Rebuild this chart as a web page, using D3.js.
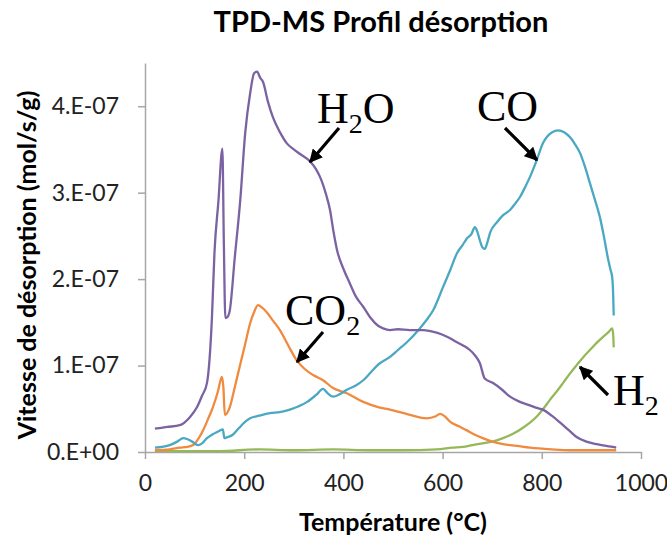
<!DOCTYPE html>
<html>
<head>
<meta charset="utf-8">
<script src="https://cdn.jsdelivr.net/npm/d3@7"></script>
<style>
  body { margin: 0; background: #ffffff; }
  svg { display: block; }
</style>
</head>
<body>
<div id="chart"></div>
<script>
// Données (température en °C, vitesse en 1E-07 mol/s/g)
var h2oTemp = [20, 45, 70, 90, 105, 115, 125, 135, 140, 148, 156, 159, 162, 166, 171, 181, 192, 202, 212, 220, 226, 232, 238, 248, 258, 272, 286, 300, 312, 333, 345, 356, 365, 373, 380, 387, 400, 413, 425, 440, 455, 470, 480, 494, 510, 534, 561, 588, 610, 629, 642, 655, 665, 675, 685, 701, 720, 736, 756, 776, 790, 802, 820, 837, 855, 871, 890, 911, 930, 943, 950];
var h2oVal = [0.27, 0.29, 0.31, 0.40, 0.52, 0.65, 0.80, 1.56, 2.30, 2.90, 3.51, 2.40, 1.55, 1.56, 1.64, 2.25, 2.91, 3.69, 4.15, 4.38, 4.40, 4.33, 4.28, 4.05, 3.87, 3.70, 3.57, 3.50, 3.45, 3.36, 3.27, 3.14, 2.98, 2.80, 2.55, 2.34, 2.12, 1.95, 1.80, 1.68, 1.55, 1.46, 1.43, 1.41, 1.42, 1.41, 1.41, 1.38, 1.33, 1.27, 1.23, 1.18, 1.12, 1.03, 0.85, 0.80, 0.72, 0.64, 0.58, 0.54, 0.51, 0.49, 0.42, 0.34, 0.25, 0.17, 0.12, 0.09, 0.07, 0.06, 0.05];

var co2Temp = [20, 50, 70, 85, 97, 107, 117, 127, 137, 147, 155, 158, 161, 171, 181, 191, 202, 212, 220, 228, 236, 245, 258, 272, 290, 306, 322, 339, 359, 379, 407, 440, 470, 494, 534, 568, 585, 595, 605, 615, 632, 649, 665, 681, 700, 722, 750, 776, 820, 857, 900, 950];
var co2Val = [0.02, 0.03, 0.05, 0.06, 0.08, 0.15, 0.25, 0.38, 0.52, 0.70, 0.87, 0.75, 0.43, 0.52, 0.75, 0.99, 1.25, 1.49, 1.62, 1.70, 1.67, 1.62, 1.52, 1.41, 1.22, 1.06, 0.96, 0.89, 0.83, 0.74, 0.68, 0.58, 0.52, 0.49, 0.43, 0.39, 0.41, 0.44, 0.41, 0.35, 0.30, 0.25, 0.20, 0.16, 0.12, 0.09, 0.07, 0.05, 0.03, 0.02, 0.02, 0.02];

var coTemp = [20, 50, 65, 77, 85, 95, 107, 115, 125, 135, 145, 157, 160, 165, 177, 190, 200, 212, 230, 252, 272, 292, 310, 327, 345, 359, 368, 379, 393, 407, 425, 440, 455, 470, 494, 510, 528, 554, 568, 581, 601, 615, 629, 641, 649, 658, 665, 670, 675, 680, 685, 690, 696, 710, 722, 736, 746, 756, 766, 776, 790, 802, 811, 821, 833, 845, 857, 867, 877, 887, 897, 907, 917, 925, 933, 938, 942, 944, 945];
var coVal = [0.05, 0.08, 0.12, 0.16, 0.15, 0.12, 0.08, 0.10, 0.16, 0.20, 0.23, 0.26, 0.16, 0.17, 0.20, 0.28, 0.34, 0.39, 0.42, 0.45, 0.46, 0.49, 0.53, 0.58, 0.66, 0.73, 0.68, 0.64, 0.67, 0.72, 0.77, 0.83, 0.92, 1.01, 1.10, 1.18, 1.27, 1.43, 1.53, 1.64, 1.91, 2.10, 2.30, 2.40, 2.47, 2.52, 2.60, 2.55, 2.45, 2.37, 2.35, 2.42, 2.54, 2.66, 2.74, 2.80, 2.87, 2.95, 3.06, 3.18, 3.38, 3.57, 3.65, 3.70, 3.72, 3.70, 3.64, 3.56, 3.46, 3.30, 3.11, 2.92, 2.72, 2.50, 2.25, 2.12, 2.02, 1.80, 1.58];

var h2Temp = [20, 100, 150, 230, 300, 380, 454, 520, 588, 620, 641, 660, 681, 700, 722, 742, 762, 776, 790, 803, 816, 830, 843, 857, 871, 884, 897, 910, 923, 935, 942, 944, 945];
var h2Val = [0.01, 0.01, 0.01, 0.03, 0.02, 0.03, 0.02, 0.02, 0.03, 0.05, 0.06, 0.08, 0.10, 0.12, 0.16, 0.21, 0.28, 0.34, 0.41, 0.50, 0.60, 0.70, 0.80, 0.91, 1.01, 1.10, 1.18, 1.26, 1.33, 1.39, 1.43, 1.35, 1.21];

var xTicks = [0, 200, 400, 600, 800, 1000];
var yTicks = [0, 1, 2, 3, 4];
var yTickLabels = ['0.E+00', '1.E-07', '2.E-07', '3.E-07', '4.E-07'];

var seriesNames = ['H2O', 'CO2', 'CO', 'H2'];
var seriesColors = ['#7B62A3', '#F08A3E', '#4AA8C2', '#95B858'];

var width = 667, height = 540;
var sansFont = 'Lato, "Open Sans", sans-serif';
var serifFont = '"Liberation Serif", "DejaVu Serif", serif';

var svg = d3.select('#chart').append('svg')
    .attr('width', width)
    .attr('height', height)
    .style('background', '#ffffff');

// Echelles
var x = d3.scaleLinear().domain([0, 1000]).range([145, 641]);
var y = d3.scaleLinear().domain([0, 4.5]).range([452, 63]);

// Axes
var xAxis = svg.append('g')
    .attr('transform', 'translate(0,' + y(0) + ')')
    .call(d3.axisBottom(x).tickValues(xTicks).tickSize(7).tickPadding(16).tickSizeOuter(0)
        .tickFormat(d3.format('d')));
var yAxis = svg.append('g')
    .attr('transform', 'translate(' + x(0) + ',0)')
    .call(d3.axisLeft(y).tickValues(yTicks).tickSize(7).tickPadding(19).tickSizeOuter(0)
        .tickFormat(function (d, i) { return yTickLabels[i]; }));

[xAxis, yAxis].forEach(function (ax) {
    ax.select('.domain').attr('stroke', '#a6a6a6').attr('stroke-width', 1.5);
    ax.selectAll('.tick line').attr('stroke', '#a6a6a6').attr('stroke-width', 1.5);
    ax.selectAll('.tick text')
        .style('font-family', sansFont)
        .style('font-size', '23px')
        .attr('fill', '#222222');
});

// Courbes
var allTemps = [h2oTemp, co2Temp, coTemp, h2Temp];
var allVals = [h2oVal, co2Val, coVal, h2Val];

var line = d3.line()
    .x(function (d) { return x(d[0]); })
    .y(function (d) { return y(d[1]); })
    .curve(d3.curveMonotoneX);

// ordre de dessin : H2, CO2, CO, H2O
[3, 1, 2, 0].forEach(function (s) {
    var pts = allTemps[s].map(function (t, i) { return [t, allVals[s][i]]; });
    svg.append('path')
        .datum(pts)
        .attr('class', 'serie-' + seriesNames[s])
        .attr('fill', 'none')
        .attr('stroke', seriesColors[s])
        .attr('stroke-width', 2.3)
        .attr('stroke-linejoin', 'round')
        .attr('d', line);
});

// Titres
svg.append('text')
    .attr('x', 381)
    .attr('y', 32)
    .attr('text-anchor', 'middle')
    .style('font-family', sansFont)
    .style('font-weight', 'bold')
    .style('font-size', '29px')
    .text('TPD-MS Profil désorption');

svg.append('text')
    .attr('x', 393)
    .attr('y', 531)
    .attr('text-anchor', 'middle')
    .style('font-family', sansFont)
    .style('font-weight', 'bold')
    .style('font-size', '25px')
    .text('Température (°C)');

svg.append('text')
    .attr('transform', 'translate(36,265) rotate(-90)')
    .attr('text-anchor', 'middle')
    .style('font-family', sansFont)
    .style('font-weight', 'bold')
    .style('font-size', '25px')
    .text('Vitesse de désorption (mol/s/g)');

// Annotations (flèches + formules)
var defs = svg.append('defs');
defs.append('marker')
    .attr('id', 'fleche')
    .attr('viewBox', '0 0 10 10')
    .attr('refX', 9)
    .attr('refY', 5)
    .attr('markerWidth', 4.2)
    .attr('markerHeight', 4.2)
    .attr('orient', 'auto')
    .append('path')
    .attr('d', 'M0,0 L10,5 L0,10 Z')
    .attr('fill', '#000000');

var labels = [
    { base: 'H', sub: '2', tail: 'O', x: 317, y: 123, ax1: 339, ay1: 128, ax2: 310, ay2: 162 },
    { base: 'CO', sub: '', tail: '', x: 477, y: 121, ax1: 505, ay1: 128, ax2: 537, ay2: 160 },
    { base: 'CO', sub: '2', tail: '', x: 285, y: 325, ax1: 323, ay1: 332, ax2: 297, ay2: 362 },
    { base: 'H', sub: '2', tail: '', x: 613, y: 405, ax1: 608, ay1: 395, ax2: 580, ay2: 367 }
];

labels.forEach(function (l) {
    svg.append('line')
        .attr('x1', l.ax1).attr('y1', l.ay1)
        .attr('x2', l.ax2).attr('y2', l.ay2)
        .attr('stroke', '#000000')
        .attr('stroke-width', 3.2)
        .attr('marker-end', 'url(#fleche)');

    var t = svg.append('text')
        .attr('x', l.x)
        .attr('y', l.y)
        .style('font-family', serifFont)
        .style('font-size', '44px')
        .attr('fill', '#000000');
    t.append('tspan').text(l.base);
    if (l.sub) {
        t.append('tspan').attr('dy', 10).style('font-size', '28px').text(l.sub);
    }
    if (l.tail) {
        t.append('tspan').attr('dy', -10).text(l.tail);
    }
});
</script>
</body>
</html>
